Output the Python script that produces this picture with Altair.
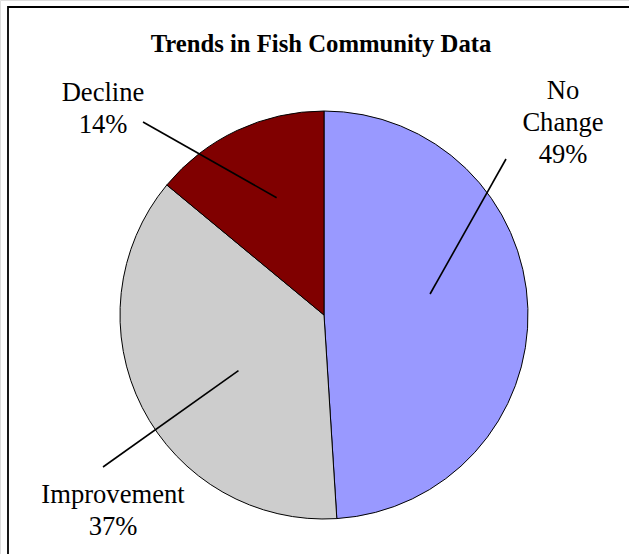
import math
import altair as alt
import pandas as pd

# Survey outcome shares (percent)
categories = ["No Change", "Improvement", "Decline"]
shares = [49, 37, 14]
colors = ["#9999FF", "#CDCDCD", "#800000"]

# Label text lines for each slice
label_lines = [["No", "Change", "49%"], ["Improvement", "37%"], ["Decline", "14%"]]

# Layout: pie geometry and label placement (pixels)
W, H = 629, 554
CX, CY, R = 324, 315, 204
label_xy = [(563, 99), (113, 503), (103, 101)]
leader_outer = [(506, 159), (103, 467), (143, 122)]
leader_inner_polar = [(78.8, 0.53), (237.0, 0.50), (338.0, 0.62)]  # (deg from 12 o'clock, r fraction)

FONT = "Liberation Serif"

pie_df = pd.DataFrame({"category": categories, "share": shares, "idx": range(len(categories))})

pie = alt.Chart(pie_df).mark_arc(radius=R, stroke="black", strokeWidth=1).encode(
    theta=alt.Theta("share:Q", stack=True),
    order=alt.Order("idx:Q"),
    color=alt.Color("category:N", scale=alt.Scale(domain=categories, range=colors), legend=None),
    x=alt.value(CX),
    y=alt.value(CY),
)

# Leader lines from label to slice interior
rows = []
for (ox, oy), (ang, frac) in zip(leader_outer, leader_inner_polar):
    a = math.radians(ang)
    rows.append({
        "x": ox, "y": oy,
        "x2": CX + R * frac * math.sin(a),
        "y2": CY - R * frac * math.cos(a),
    })
lead_df = pd.DataFrame(rows)
leaders = alt.Chart(lead_df).mark_rule(color="black", strokeWidth=1.6).encode(
    x=alt.X("x:Q", scale=None), y=alt.Y("y:Q", scale=None),
    x2="x2:Q", y2="y2:Q",
)

lab_df = pd.DataFrame({
    "text": label_lines,
    "x": [p[0] for p in label_xy],
    "y": [p[1] for p in label_xy],
})
labels = alt.Chart(lab_df).mark_text(
    font=FONT, fontSize=26.6, color="black", align="center", baseline="alphabetic", lineHeight=32
).encode(
    x=alt.X("x:Q", scale=None), y=alt.Y("y:Q", scale=None), text="text"
)

title = alt.Chart(pd.DataFrame({"t": ["Trends in Fish Community Data"]})).mark_text(
    font=FONT, fontSize=24.7, fontWeight="bold", color="black", align="center", baseline="alphabetic"
).encode(x=alt.value(321), y=alt.value(52), text="t:N")

frame = alt.Chart(pd.DataFrame({"a": [0]})).mark_rect(
    fill=None, stroke="black", strokeWidth=1.8
).encode(x=alt.value(8), x2=alt.value(W + 40), y=alt.value(7), y2=alt.value(H + 40))

chart = alt.layer(frame, pie, leaders, labels, title).properties(
    width=W, height=H, padding=0, autosize=alt.AutoSizeParams(type="none")
).configure_view(stroke=None).configure(background="white")

chart.save("out.html", embed_options={"renderer": "svg", "actions": False})
